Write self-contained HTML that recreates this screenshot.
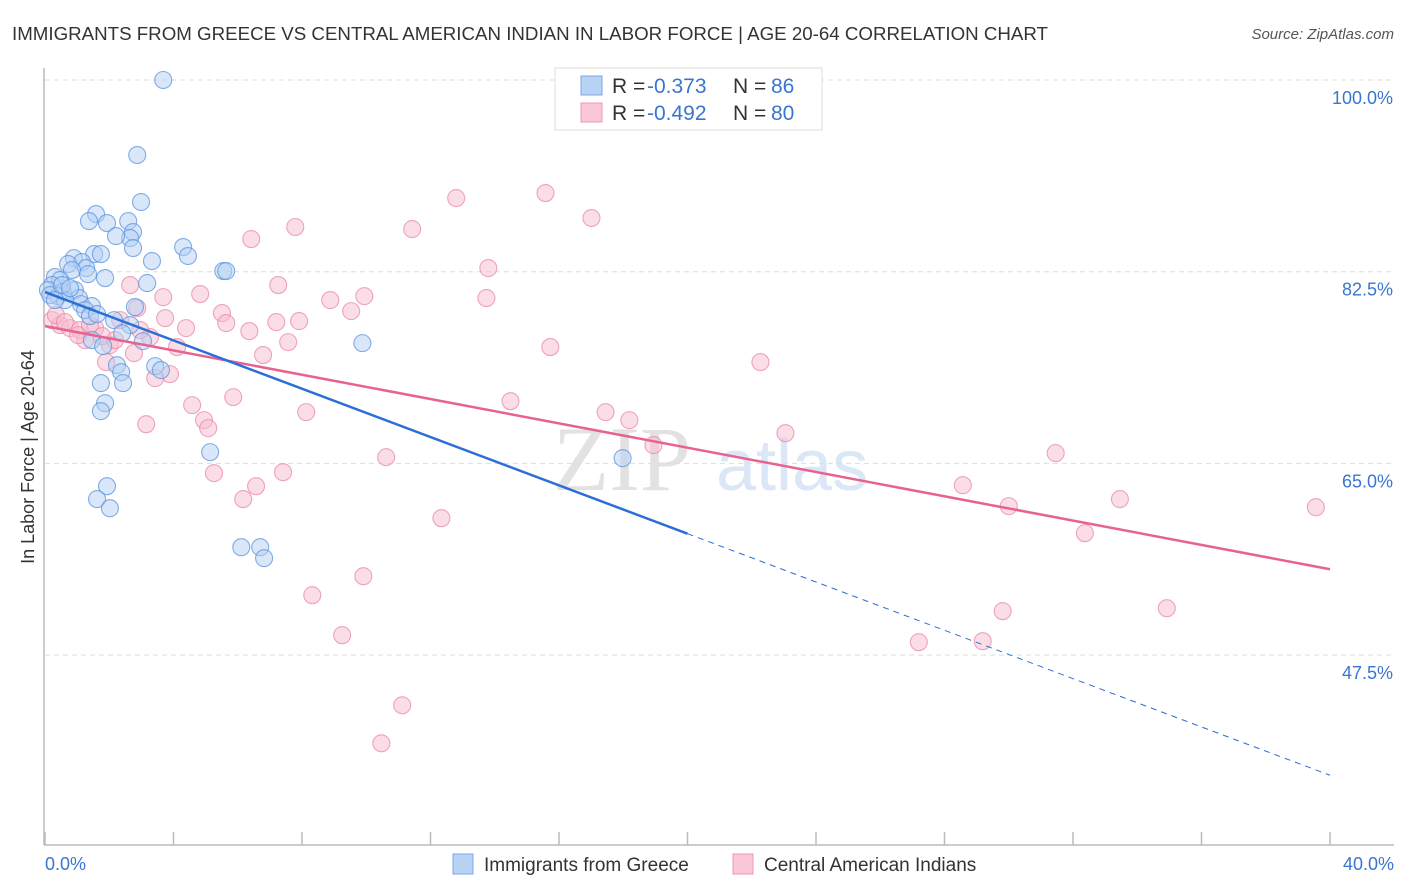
<!DOCTYPE html>
<html><head><meta charset="utf-8"><style>
body{margin:0;background:#fff;font-family:"Liberation Sans",sans-serif}
svg{display:block}
</style></head><body>
<svg id="chart" width="1406" height="892">
<text x="12" y="40" font-size="18" fill="#333" textLength="1036" lengthAdjust="spacingAndGlyphs">IMMIGRANTS FROM GREECE VS CENTRAL AMERICAN INDIAN IN LABOR FORCE | AGE 20-64 CORRELATION CHART</text>
<text x="1394" y="39" font-size="15" fill="#555" font-style="italic" text-anchor="end">Source: ZipAtlas.com</text>
<g>
<text x="553" y="490" font-size="92" fill="#e2e2e2" font-family="Liberation Serif,serif">ZIP</text>
<text x="716" y="490" font-size="72" fill="#dbe7f7">atlas</text>
</g>
<g id="grid"></g>
<g id="axes"></g>
<g id="marks"></g>
<g id="trends"></g>
<text transform="translate(34,457) rotate(-90)" font-size="18" fill="#333" text-anchor="middle">In Labor Force | Age 20-64</text>
<text x="45" y="870" font-size="18" fill="#3a75d0">0.0%</text>
<text x="1394" y="870" font-size="18" fill="#3a75d0" text-anchor="end">40.0%</text>
<g>
<rect x="555" y="68" width="267" height="62" fill="#fff" stroke="#ddd"/>
<rect x="581" y="76" width="21" height="19" fill="#b9d3f5" stroke="#7aa7e6"/>
<rect x="581" y="103" width="21" height="19" fill="#f9c7d6" stroke="#eb9bb4"/>
<text y="93" font-size="21"><tspan x="612" fill="#333">R = </tspan><tspan x="647" fill="#3a75d0">-0.373</tspan><tspan x="733" fill="#333">N = </tspan><tspan x="771" fill="#3a75d0">86</tspan></text>
<text y="120" font-size="21"><tspan x="612" fill="#333">R = </tspan><tspan x="647" fill="#3a75d0">-0.492</tspan><tspan x="733" fill="#333">N = </tspan><tspan x="771" fill="#3a75d0">80</tspan></text>
</g>
<g>
<rect x="453" y="854" width="20" height="20" fill="#b9d3f5" stroke="#7aa7e6"/>
<text x="484" y="871" font-size="19" fill="#333">Immigrants from Greece</text>
<rect x="733" y="854" width="20" height="20" fill="#f9c7d6" stroke="#eb9bb4"/>
<text x="764" y="871" font-size="19" fill="#333">Central American Indians</text>
</g>
</svg>
<script>
const yTicks=[100,82.5,65,47.5];
const yTickLabels=["100.0%","82.5%","65.0%","47.5%"];
const xTicks=[0,4,8,12,16,20,24,28,32,36,40];
const greeceX=[3.68,2.87,2.99,1.59,1.37,1.93,2.59,2.74,2.65,2.21,2.74,4.30,4.45,3.33,1.53,1.74,0.90,1.15,0.72,1.28,0.84,1.34,1.87,5.55,5.64,3.18,0.31,0.47,0.22,0.09,0.56,0.93,0.40,1.06,0.62,1.12,1.46,1.25,1.40,1.62,2.80,2.15,2.65,2.40,3.05,1.46,1.81,9.88,2.24,2.37,3.43,3.61,2.43,1.74,1.87,1.74,5.14,17.98,1.93,1.62,2.02,6.11,6.70,6.82,0.16,0.31,0.53,0.78];
const greeceY=[100,93.15,88.86,87.76,87.12,86.94,87.12,86.12,85.57,85.75,84.66,84.75,83.93,83.47,84.11,84.11,83.74,83.38,83.20,82.83,82.65,82.28,81.92,82.56,82.56,81.46,82.01,81.74,81.28,80.82,80.64,80.82,80.27,80.09,79.91,79.54,79.36,79.00,78.45,78.63,79.27,78.08,77.63,76.89,76.16,76.26,75.71,75.98,73.97,73.33,73.88,73.52,72.33,72.33,70.50,69.77,66.03,65.48,62.92,61.74,60.91,57.35,57.35,56.35,80.37,79.91,81.28,81.00];
const caiX=[15.58,12.80,17.01,7.79,11.43,6.42,13.80,2.65,7.26,9.94,13.74,8.88,3.68,4.83,5.51,9.53,2.87,3.74,4.39,5.64,7.20,7.91,6.36,7.57,0.22,0.47,0.78,1.09,1.56,1.25,2.02,3.27,4.11,2.77,6.79,15.73,22.27,1.90,3.89,3.43,5.86,4.58,8.13,14.49,17.45,18.19,3.15,4.95,5.08,18.94,23.05,31.46,10.62,5.26,7.41,6.57,6.17,28.57,30.00,33.46,39.56,12.34,32.37,9.91,8.32,34.92,29.81,27.20,29.19,9.25,11.12,10.47,0.34,0.62,1.03,1.40,1.78,2.34,2.96,2.18];
const caiY=[89.68,89.22,87.40,86.58,86.39,85.48,82.83,81.28,81.28,80.27,80.09,79.91,80.18,80.46,78.72,78.90,79.18,78.26,77.35,77.81,77.90,77.99,77.08,76.07,78.08,77.63,77.35,77.17,77.35,76.26,75.80,76.53,75.62,75.07,74.89,75.62,74.25,74.25,73.15,72.79,71.05,70.32,69.68,70.68,69.68,68.95,68.58,68.95,68.22,66.67,67.76,65.94,65.57,64.11,64.20,62.92,61.74,63.01,61.10,61.74,61.00,60.00,58.63,54.70,52.97,51.78,51.51,48.68,48.77,49.32,42.92,39.45,78.54,77.90,76.71,77.63,76.62,78.08,77.17,76.26];
const greeceTrend=[80.64,36.53];
const caiTrend=[77.53,55.34];
const greeceSolidEnd=20;

const NS="http://www.w3.org/2000/svg";
const sx=v=>45+v*(1330-45)/40;
const sy=v=>80+(100-v)*(191.7/17.5);
function mk(tag,attrs,parent){const e=document.createElementNS(NS,tag);for(const k in attrs)e.setAttribute(k,attrs[k]);parent.appendChild(e);return e;}
const grid=document.getElementById('grid'),axes=document.getElementById('axes'),marks=document.getElementById('marks'),trends=document.getElementById('trends');
yTicks.forEach((t,i)=>{
  const l=mk('line',{x1:45,x2:1394,y1:sy(t),y2:sy(t),stroke:'#ddd','stroke-dasharray':'5,4'},grid);
  
  
  const tx=mk('text',{x:1393,y:sy(t)+24,'font-size':18,fill:'#3a75d0','text-anchor':'end'},axes);
  tx.textContent=yTickLabels[i];
  
  
});
const ya=mk('line',{x1:44,x2:44,y1:68,y2:845,stroke:'#bbb','stroke-width':1.5},axes);


const xa=mk('line',{x1:44,x2:1394,y1:845,y2:845,stroke:'#bbb','stroke-width':1.5},axes);


xTicks.forEach(t=>{
  const l=mk('line',{x1:sx(t),x2:sx(t),y1:832,y2:845,stroke:'#bbb','stroke-width':1.5},axes);
  
  
});
function pts(X,Y,fill,stroke,name){
  X.forEach((x,i)=>{
    const c=mk('circle',{cx:sx(x),cy:sy(Y[i]),r:8.5,fill:fill,'fill-opacity':0.5,stroke:stroke,'stroke-width':1.1,'stroke-opacity':0.75},marks);
    
    
  });
}
pts(caiX,caiY,'#f7bcd0','#e88aa8','cai-point');
pts(greeceX,greeceY,'#b3cff3','#5b93e0','greece-point');
const gy=x=>greeceTrend[0]+(greeceTrend[1]-greeceTrend[0])*x/40;
const cy=x=>caiTrend[0]+(caiTrend[1]-caiTrend[0])*x/40;
const l1=mk('line',{x1:sx(0),y1:sy(cy(0)),x2:sx(40),y2:sy(cy(40)),stroke:'#e8628f','stroke-width':2.5},trends);


const l2=mk('line',{x1:sx(0),y1:sy(gy(0)),x2:sx(greeceSolidEnd),y2:sy(gy(greeceSolidEnd)),stroke:'#2b6fd6','stroke-width':2.5},trends);


const l3=mk('line',{x1:sx(greeceSolidEnd),y1:sy(gy(greeceSolidEnd)),x2:sx(40),y2:sy(gy(40)),stroke:'#2b6fd6','stroke-width':1,'stroke-dasharray':'6,5'},trends);


</script>
</body></html>
